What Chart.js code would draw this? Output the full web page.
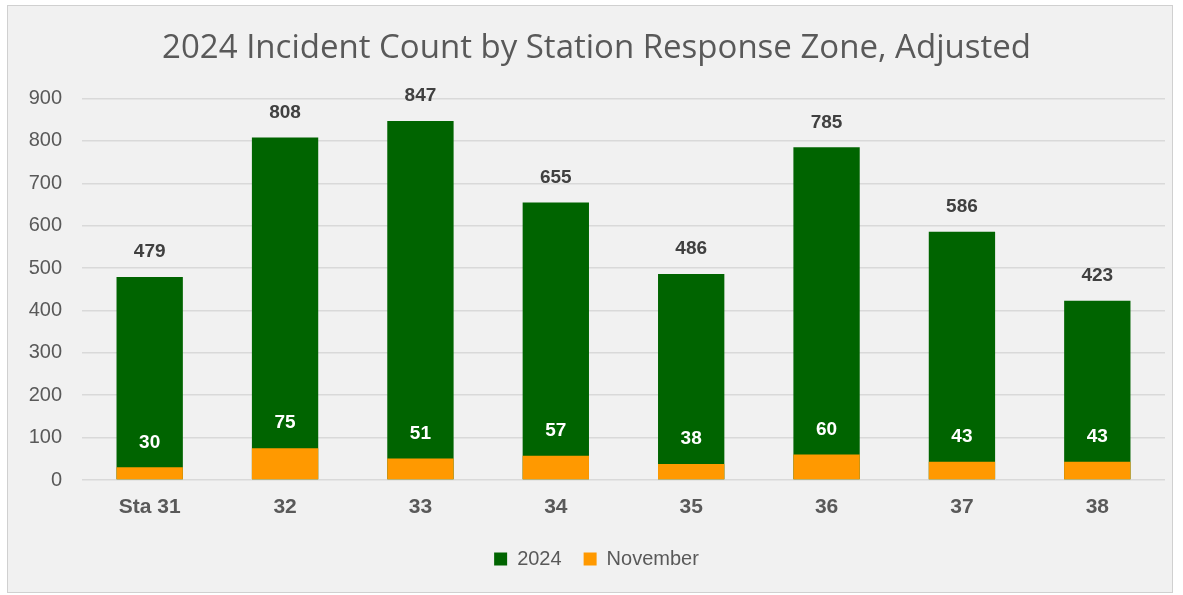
<!DOCTYPE html>
<html>
<head>
<meta charset="utf-8">
<script src="https://cdn.jsdelivr.net/npm/chart.js@4"></script>
<style>
  body { margin: 0; background: #ffffff; }
  #wrap {
    position: absolute; left: 7px; top: 5px;
    width: 1164px; height: 586px;
    border: 1px solid #d0d0d0; background: #f1f1f1;
  }
</style>
</head>
<body>
<div id="wrap"><canvas id="incidents"></canvas></div>
<script>
const stations = ['Sta 31', '32', '33', '34', '35', '36', '37', '38'];
const yearCounts = [479, 808, 847, 655, 486, 785, 586, 423];
const novemberCounts = [30, 75, 51, 57, 38, 60, 43, 43];

// draws the value above each bar, like Excel's "outside end" labels
const barLabels = {
  id: 'barLabels',
  afterDatasetsDraw(chart) {
    const ctx = chart.ctx;
    ctx.save();
    ctx.font = 'bold 19px "Liberation Sans", Arial, sans-serif';
    ctx.textAlign = 'center';
    ctx.textBaseline = 'middle';
    chart.data.datasets.forEach((ds, i) => {
      const meta = chart.getDatasetMeta(i);
      ctx.fillStyle = ds.labelColor;
      meta.data.forEach((bar, j) => {
        ctx.fillText(ds.data[j], bar.x, bar.y - 25);
      });
    });
    ctx.restore();
  }
};

const ctx = document.getElementById('incidents');
const myChart = new Chart(ctx, {
  type: 'bar',
  data: {
    labels: stations,
    datasets: [{
      label: '2024',
      data: yearCounts,
      backgroundColor: '#006400',
      labelColor: '#404040',
      order: 1
    }, {
      label: 'November',
      data: novemberCounts,
      backgroundColor: '#ff9900',
      labelColor: '#ffffff',
      order: 0
    }]
  },
  options: {
    responsive: true,
    maintainAspectRatio: false,
    animation: false,
    layout: {
      padding: { left: 20, right: 7, top: 0, bottom: 13 }
    },
    datasets: {
      bar: { barPercentage: 0.49, categoryPercentage: 1 }
    },
    plugins: {
      title: {
        display: true,
        text: '2024 Incident Count by Station Response Zone, Adjusted',
        color: '#595959',
        font: { family: '"Open Sans", sans-serif', size: 33, weight: 'normal' },
        padding: { top: 23, bottom: 30 }
      },
      legend: {
        position: 'bottom',
        labels: {
          color: '#595959',
          font: { family: '"Liberation Sans", Arial, sans-serif', size: 20 },
          boxWidth: 13,
          boxHeight: 13,
          padding: 22,
          sort: (a, b) => a.datasetIndex - b.datasetIndex
        }
      },
      tooltip: { enabled: false }
    },
    scales: {
      x: {
        stacked: true,
        grid: { display: false, drawTicks: false },
        border: { display: false },
        ticks: {
          color: '#595959',
          padding: 15,
          font: { family: '"Liberation Sans", Arial, sans-serif', size: 21, weight: 'bold' }
        },
        afterFit(scale) {
          scale.height = 47;
          scale.paddingLeft = 0;
          scale.paddingRight = 0;
        }
      },
      y: {
        stacked: false,
        min: 0,
        max: 900,
        ticks: {
          stepSize: 100,
          color: '#595959',
          padding: 20,
          font: { family: '"Liberation Sans", Arial, sans-serif', size: 20 }
        },
        grid: { color: '#d9d9d9', lineWidth: 1.5, drawTicks: false },
        border: { display: false },
        afterFit(scale) {
          scale.width = 54;
        }
      }
    }
  },
  plugins: [barLabels]
});
</script>
</body>
</html>
